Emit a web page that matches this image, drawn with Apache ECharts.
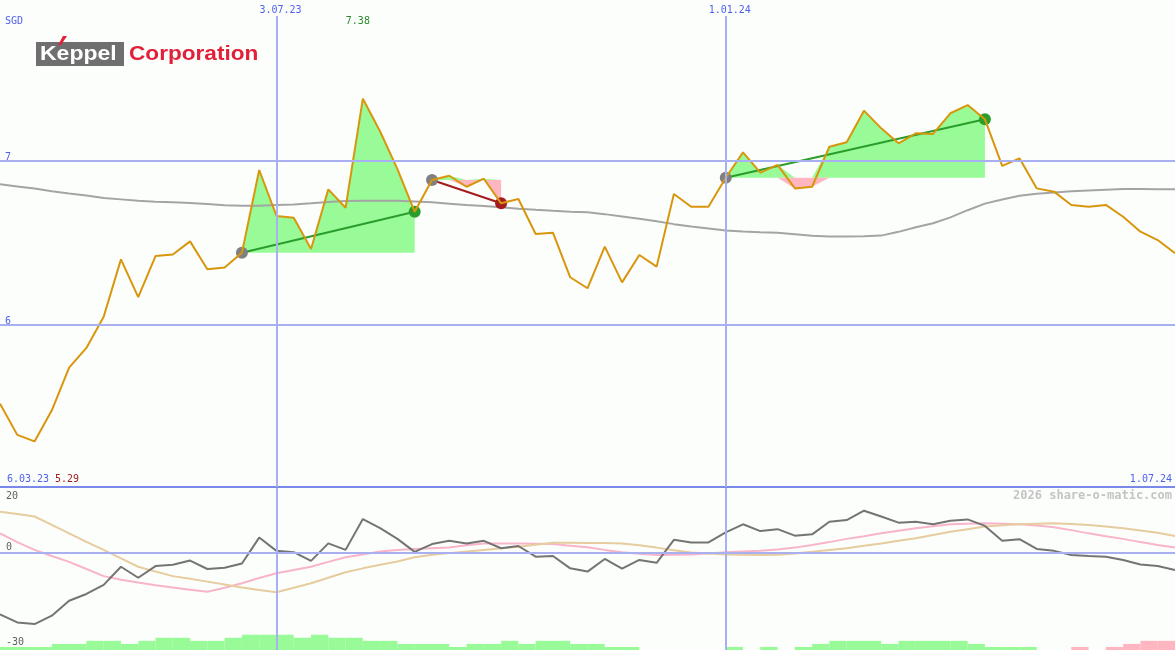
<!DOCTYPE html>
<html><head><meta charset="utf-8">
<script src="https://cdn.jsdelivr.net/npm/echarts@6/dist/echarts.min.js"></script>
<style>html,body{margin:0;padding:0;background:#fcfefc}#c{width:1175px;height:650px}</style>
</head><body><div id="c"></div>
<script>
// ---- data (weekly points, index 0..68) ----
const firstDate = '6.03.23';
const lastDate = '1.07.24';
const currency = 'SGD';
const dateTicks = [16, 42];
const dateTickLabels = ['3.07.23', '1.01.24'];
const priceTicks = [6, 7];
const oscTicks = [20, 0, -30];

const price = [5.52, 5.33, 5.29, 5.48, 5.74, 5.86, 6.05, 6.40, 6.17, 6.42, 6.43, 6.51, 6.34, 6.35, 6.44,
  6.945, 6.665, 6.654, 6.463, 6.827, 6.715, 7.38, 7.18, 6.95, 6.69, 6.884, 6.91, 6.843, 6.892, 6.742,
  6.768, 6.555, 6.563, 6.291, 6.224, 6.478, 6.26, 6.427, 6.356, 6.799, 6.721, 6.721, 6.898, 7.053,
  6.929, 6.976, 6.833, 6.843, 7.087, 7.114, 7.307, 7.199, 7.108, 7.169, 7.165, 7.291, 7.341, 7.254,
  6.97, 7.016, 6.833, 6.813, 6.732, 6.721, 6.732, 6.66, 6.569, 6.518, 6.437];

const priceMA = [6.858, 6.845, 6.832, 6.816, 6.802, 6.789, 6.775, 6.766, 6.757, 6.751, 6.748, 6.744,
  6.738, 6.730, 6.727, 6.727, 6.731, 6.735, 6.742, 6.750, 6.756, 6.758, 6.758, 6.757, 6.753, 6.748,
  6.740, 6.731, 6.725, 6.718, 6.709, 6.702, 6.696, 6.691, 6.687, 6.676, 6.662, 6.648, 6.632, 6.615,
  6.600, 6.588, 6.576, 6.570, 6.566, 6.563, 6.554, 6.544, 6.540, 6.540, 6.541, 6.545, 6.568, 6.596,
  6.620, 6.656, 6.700, 6.740, 6.765, 6.788, 6.800, 6.808, 6.815, 6.820, 6.825, 6.829, 6.830, 6.828, 6.827];

const signalStart = [14, 25, 42];
const signalEnd = [24, 29, 57];

const oscMain = [-19.0, -21.5, -22.0, -19.4, -14.8, -12.7, -9.9, -4.3, -7.7, -4.1, -3.7, -2.4, -5.0,
  -4.6, -3.3, 4.7, 0.6, 0.2, -2.5, 2.9, 0.9, 10.4, 7.6, 4.3, 0.3, 2.7, 3.7, 2.9, 3.7, 1.4, 2.1, -1.2,
  -1.0, -4.8, -5.8, -1.9, -4.9, -2.2, -3.1, 4.0, 3.2, 3.2, 6.3, 8.8, 6.7, 7.3, 5.3, 5.7, 9.6, 10.1,
  13.0, 11.2, 9.3, 9.6, 8.8, 9.9, 10.3, 8.3, 3.7, 4.2, 1.2, 0.6, -0.7, -1.0, -1.2, -2.2, -3.6, -4.1, -5.3];

const oscFast = [6.0, 3.3, 0.9, -1.0, -2.8, -5.0, -7.2, -8.3, -9.2, -10.0, -10.7, -11.4, -12.0, -10.8,
  -9.4, -7.8, -6.3, -5.3, -4.3, -2.8, -1.4, -0.5, 0.4, 0.9, 1.2, 1.4, 1.6, 2.3, 2.9, 2.9, 2.9, 2.8,
  2.7, 2.2, 1.7, 0.9, 0.2, -0.3, -0.7, -0.6, -0.5, -0.2, 0.2, 0.4, 0.6, 1.0, 1.6, 2.4, 3.3, 4.3, 5.1,
  6.0, 6.8, 7.6, 8.2, 8.8, 9.0, 9.1, 9.0, 8.8, 8.4, 7.9, 7.0, 6.0, 5.1, 4.3, 3.3, 2.4, 1.6];

const oscSlow = [12.7, 12.0, 11.2, 8.6, 6.0, 3.4, 0.9, -1.7, -4.3, -5.8, -7.2, -8.0, -8.9, -9.8, -10.7,
  -11.5, -12.2, -10.8, -9.4, -7.7, -6.0, -4.8, -3.7, -2.7, -1.4, -0.6, -0.1, 0.4, 0.9, 1.4, 1.9, 2.5,
  3.1, 3.1, 3.0, 3.0, 2.9, 2.3, 1.6, 0.8, 0.1, -0.2, -0.5, -0.6, -0.7, -0.6, -0.2, 0.3, 0.9, 1.4, 2.2,
  2.9, 3.7, 4.5, 5.5, 6.5, 7.3, 8.1, 8.5, 8.8, 9.0, 9.1, 8.9, 8.6, 8.1, 7.6, 6.9, 6.2, 5.2];

// one bar per weekly interval, sign = colour (positive green, negative pink)
const barLevels = [1, 1, 1, 2, 2, 3, 3, 2, 3, 4, 4, 3, 3, 4, 5, 5, 5, 4, 5, 4, 4, 3, 3, 2, 2, 2, 1, 2,
  2, 3, 2, 3, 3, 2, 2, 1, 1, 0, 0, 0, 0, 0, 1, 0, 1, 0, 1, 2, 3, 3, 3, 2, 3, 3, 3, 3, 2, 1, 1, 1, 0, 0,
  -1, 0, -1, -2, -3, -3];

// ---- styles ----
const BG = '#fcfefc', GRID = '#a8b0f2', SEP = '#7a88ea', BLUE = '#5060f0';
const PRICE = '#d8960c', MA = '#a4a4a4', GREEN = '#98fb98', PINK = '#ffb6c1';
const SIG_GREEN = '#2a9d2a', SIG_RED = '#a51c1c', DOT = '#808080';
const OSC_MAIN = '#747474', OSC_FAST = '#f8b4c8', OSC_SLOW = '#e6cc9e', OSC_TXT = '#606060';
const MONO = '"DejaVu Sans Mono", monospace';

const chart = echarts.init(document.getElementById('c'), null, {renderer: 'canvas'});
const pts = arr => arr.map((v, i) => [i, v]);
const lbl = (txt, extra) => Object.assign({show: true, formatter: txt, color: BLUE,
  fontFamily: MONO, fontSize: 10}, extra);

const series = [];
// signal fills: price above the entry level in green, below it in pink
signalStart.forEach((s, k) => {
  const e = signalEnd[k];
  const level = price[s];
  const seg = price.slice(s, e + 1);
  series.push({type: 'line', xAxisIndex: 0, yAxisIndex: 0, z: 1, symbol: 'none', silent: true,
    data: seg.map((v, j) => [s + j, Math.max(v, level)]),
    lineStyle: {width: 0}, areaStyle: {origin: level, color: GREEN, opacity: 1}});
  series.push({type: 'line', xAxisIndex: 0, yAxisIndex: 0, z: 1, symbol: 'none', silent: true,
    data: seg.map((v, j) => [s + j, Math.min(v, level)]),
    lineStyle: {width: 0}, areaStyle: {origin: level, color: PINK, opacity: 1}});
});
series.push({type: 'line', xAxisIndex: 0, yAxisIndex: 0, z: 2, symbol: 'none', silent: true,
  data: pts(priceMA), lineStyle: {color: MA, width: 2}});
signalStart.forEach((s, k) => {
  const e = signalEnd[k];
  const up = price[e] >= price[s];
  series.push({type: 'line', xAxisIndex: 0, yAxisIndex: 0, z: 3, symbol: 'circle', symbolSize: 12,
    showSymbol: true, silent: true,
    data: [{value: [s, price[s]], itemStyle: {color: DOT}},
           {value: [e, price[e]], itemStyle: {color: up ? SIG_GREEN : SIG_RED}}],
    lineStyle: {color: up ? SIG_GREEN : SIG_RED, width: 2}});
});
series.push({type: 'line', xAxisIndex: 0, yAxisIndex: 0, z: 4, symbol: 'none', silent: true,
  data: pts(price), lineStyle: {color: PRICE, width: 2},
  markLine: {silent: true, symbol: ['none', 'none'], animation: false,
    data: [
      ...dateTicks.map((x, k) => ({xAxis: x, lineStyle: {color: GRID, width: 2, type: 'solid'},
        label: lbl(dateTickLabels[k], {position: 'end', distance: 1, offset: [4, 0]})})),
      ...priceTicks.map(v => ({yAxis: v, lineStyle: {color: GRID, width: 2, type: 'solid'},
        label: lbl(String(v), {position: 'insideStartTop', distance: [5, -1]})}))
    ]}});

// oscillator panel
const oscMax = Math.max(...oscTicks), oscMin = Math.min(...oscTicks);
const oscInner = oscTicks.filter(v => v !== oscMax && v !== oscMin);
series.push({type: 'line', xAxisIndex: 1, yAxisIndex: 1, z: 2, symbol: 'none', silent: true,
  data: pts(oscFast), lineStyle: {color: OSC_FAST, width: 2}});
series.push({type: 'line', xAxisIndex: 1, yAxisIndex: 1, z: 2, symbol: 'none', silent: true,
  data: pts(oscSlow), lineStyle: {color: OSC_SLOW, width: 2}});
series.push({type: 'line', xAxisIndex: 1, yAxisIndex: 1, z: 3, symbol: 'none', silent: true,
  data: pts(oscMain), lineStyle: {color: OSC_MAIN, width: 2},
  markLine: {silent: true, symbol: ['none', 'none'], animation: false,
    data: [
      ...dateTicks.map(x => ({xAxis: x, lineStyle: {color: GRID, width: 2, type: 'solid'},
        label: {show: false}})),
      ...oscInner.map(v => ({yAxis: v, lineStyle: {color: GRID, width: 2, type: 'solid'},
        label: lbl(String(v), {color: OSC_TXT, position: 'insideStartTop', distance: [6, 0]})}))
    ]}});
series.push({type: 'bar', xAxisIndex: 2, yAxisIndex: 2, z: 1, silent: true,
  barWidth: '100%', barCategoryGap: '0%',
  data: barLevels.map(v => ({value: Math.abs(v), itemStyle: {color: v >= 0 ? GREEN : PINK}}))});

const maxV = Math.max(...price), minV = Math.min(...price);
const maxI = price.indexOf(maxV);

chart.setOption({
  animation: false,
  backgroundColor: BG,
  grid: [
    {left: 0, right: 0, top: 16, height: 471},
    {left: 0, right: 0, top: 488, height: 162}
  ],
  xAxis: [
    {type: 'value', gridIndex: 0, min: 0, max: price.length - 1, position: 'bottom',
      axisLine: {show: true, onZero: false, lineStyle: {color: SEP, width: 2}},
      axisTick: {show: false}, axisLabel: {show: false}, splitLine: {show: false}},
    {type: 'value', gridIndex: 1, min: 0, max: price.length - 1, show: false, splitLine: {show: false}},
    {type: 'category', gridIndex: 1, data: barLevels.map((_, i) => i), boundaryGap: true, show: false}
  ],
  yAxis: [
    {type: 'value', gridIndex: 0, min: 5.0122, max: 7.8841, show: false, splitLine: {show: false}},
    {type: 'value', gridIndex: 1, min: oscMin, max: oscMax, show: false, splitLine: {show: false}},
    {type: 'value', gridIndex: 1, min: 0, max: 53, show: false, splitLine: {show: false}}
  ],
  series: series
});

const maxPx = chart.convertToPixel({xAxisIndex: 0, yAxisIndex: 0}, [maxI, maxV]);
const oscMaxY = chart.convertToPixel({yAxisIndex: 1}, oscMax);
const oscMinY = chart.convertToPixel({yAxisIndex: 1}, oscMin);
const txt = (text, x, y, fill, align, font) => ({type: 'text', x: x, y: y, silent: true, z: 100,
  style: {text: text, fill: fill, font: font || ('10px ' + MONO), align: align || 'left',
    textAlign: align || 'left', verticalAlign: 'middle', textVerticalAlign: 'middle'}});

chart.setOption({
  graphic: [
    txt(currency, 5, 21, BLUE),
    txt(maxV.toFixed(2), maxPx[0] - 5, 21, '#2a8a2a', 'center'),
    txt(firstDate, 7, 479, BLUE),
    txt(minV.toFixed(2), 55, 479, SIG_RED),
    txt(lastDate, 1172, 479, BLUE, 'right'),
    txt(String(oscMax), 6, oscMaxY + 8, OSC_TXT),
    txt(String(oscMin), 6, oscMinY - 8, OSC_TXT),
    txt('2026 share-o-matic.com', 1172, 496, '#c4c4c4', 'right', 'bold 12px ' + MONO),
    // logo
    {type: 'rect', z: 100, silent: true, shape: {x: 36, y: 42, width: 88, height: 24},
      style: {fill: '#6f6f6f'}},
    {type: 'polygon', z: 101, silent: true, shape: {points: [[63, 36], [67, 36], [61, 45], [58, 45]]},
      style: {fill: '#e3203a'}},
    {type: 'text', z: 101, silent: true, x: 40, y: 54, scaleX: 1.15,
      style: {text: 'Keppel', fill: '#ffffff', font: 'bold 20px "Liberation Sans", Arial, sans-serif',
        verticalAlign: 'middle', textVerticalAlign: 'middle'}},
    {type: 'text', z: 101, silent: true, x: 129, y: 54, scaleX: 1.13,
      style: {text: 'Corporation', fill: '#e3203a', font: 'bold 20px "Liberation Sans", Arial, sans-serif',
        verticalAlign: 'middle', textVerticalAlign: 'middle'}}
  ]
});
</script></body></html>
